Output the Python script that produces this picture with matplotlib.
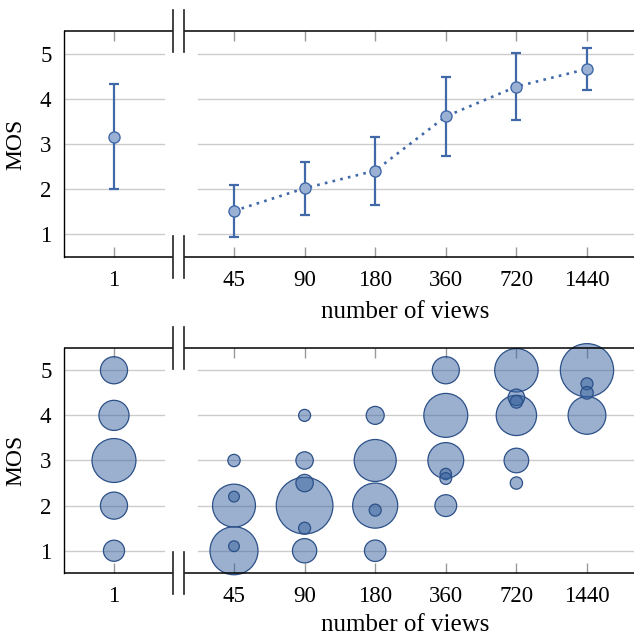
import numpy as np
import matplotlib
matplotlib.use("Agg")
import matplotlib.pyplot as plt

plt.rcParams['font.family'] = ['Liberation Serif', 'DejaVu Serif']
plt.rcParams['font.size'] = 16

# ---------------- data ----------------
views = ["1", "45", "90", "180", "360", "720", "1440"]

# top panel: mean opinion score and its spread
mos_mean = [3.16, 1.52, 2.02, 2.41, 3.61, 4.27, 4.66]
mos_std = [1.16, 0.57, 0.59, 0.75, 0.88, 0.74, 0.465]

# bottom panel: bubbles (view category, MOS value, relative count)
bubble_view = (["1"] * 5 + ["45"] * 5 + ["90"] * 6 + ["180"] * 5
               + ["360"] * 6 + ["720"] * 6 + ["1440"] * 4)
bubble_mos = [5, 4, 3, 2, 1,
              3, 2, 2.2, 1, 1.1,
              4, 3, 2, 2.5, 1.5, 1,
              4, 3, 2, 1.9, 1,
              5, 4, 3, 2.7, 2.6, 2,
              5, 4, 4.4, 4.3, 3, 2.5,
              5, 4, 4.7, 4.5]
bubble_count = [5.1, 6.3, 13.4, 5.1, 3.1,
                1.05, 12.8, 0.8, 16.0, 0.8,
                1.0, 2.1, 22.3, 2.1, 1.0, 4.1,
                2.25, 12.25, 14.1, 1.0, 3.2,
                5.1, 13.4, 8.9, 0.9, 0.95, 3.3,
                13.1, 11.3, 1.9, 1.1, 4.2, 1.05,
                19.7, 9.9, 1.0, 1.1]

# ---------------- layout ----------------
W, H = 634, 636
pos = {v: (0.0 if i == 0 else 0.7 + i) for i, v in enumerate(views)}
xpos = [pos[v] for v in views]
XL, XR = -0.708, 7.366
B1, B2 = 0.843, 0.992      # break lines
G1, G2 = 0.708, 1.19       # gridline gap
LINE_C = '#4169aa'
UNIT_PT2 = (12 * 0.72) ** 2

fig = plt.figure(figsize=(W / 100, H / 100), dpi=100)
ax1 = fig.add_axes([64 / W, 1 - 257 / H, 570 / W, 226 / H])
ax2 = fig.add_axes([64 / W, 1 - 573.3 / H, 570 / W, 225.6 / H])


def style(ax, axh_px, label_off):
    ax.set_xlim(XL, XR)
    ax.set_ylim(0.5, 5.5)
    for k in ('top', 'bottom', 'right'):
        ax.spines[k].set_visible(False)
    ax.spines['left'].set_linewidth(1.0)
    tr = ax.get_xaxis_transform()
    for yc in (0, 1):
        ax.plot([XL, B1], [yc, yc], transform=tr, color='k', lw=1.1,
                clip_on=False, zorder=5, solid_capstyle='butt')
        ax.plot([B2, XR], [yc, yc], transform=tr, color='k', lw=1.1,
                clip_on=False, zorder=5, solid_capstyle='butt')
        ext = 21 / axh_px
        for xb in (B1, B2):
            ax.plot([xb, xb], [yc - ext, yc + ext], transform=tr, color='#222222',
                    lw=1.2, clip_on=False, zorder=5)
    for y in range(1, 6):
        ax.plot([XL, G1], [y, y], color='#cccccc', lw=1.0, zorder=0)
        ax.plot([G2, XR], [y, y], color='#cccccc', lw=1.0, zorder=0)
    ax.set_xticks(xpos, views)
    ax.set_yticks([1, 2, 3, 4, 5])
    ax.tick_params(axis='x', direction='in', top=True, bottom=True, length=7,
                   width=1.0, color='#999999', pad=9, labelsize=16.5)
    ax.tick_params(axis='y', length=0, pad=9, labelsize=16.5)
    ax.set_ylabel('MOS', fontsize=17)
    ax.yaxis.set_label_coords(-38 / 570, 0.5)
    ax.set_xlabel('number of views', fontsize=18)
    ax.xaxis.set_label_coords((405 - 64) / 570, -label_off / axh_px)


style(ax1, 226, 44)
style(ax2, 225.6, 41)

# top panel
ax1.errorbar(xpos, mos_mean, yerr=mos_std, fmt='none', ecolor=LINE_C,
             elinewidth=1.6, capsize=3.7, capthick=1.6, zorder=3)
ax1.plot(xpos[1:], mos_mean[1:], linestyle=(0, (1, 2)), lw=1.9, color=LINE_C, zorder=3)
ax1.plot(xpos, mos_mean, 'o', ms=8, mfc='#9ab1d3', mec=LINE_C, mew=1.0, zorder=4)

# bottom panel
bx = [pos[v] for v in bubble_view]
ax2.scatter(bx, bubble_mos, s=np.array(bubble_count) * UNIT_PT2,
            facecolor=(0.216, 0.39, 0.625, 0.5), edgecolor='#2c5088',
            linewidth=0.9, clip_on=False, zorder=3)

fig.savefig('out.png', dpi=100)
